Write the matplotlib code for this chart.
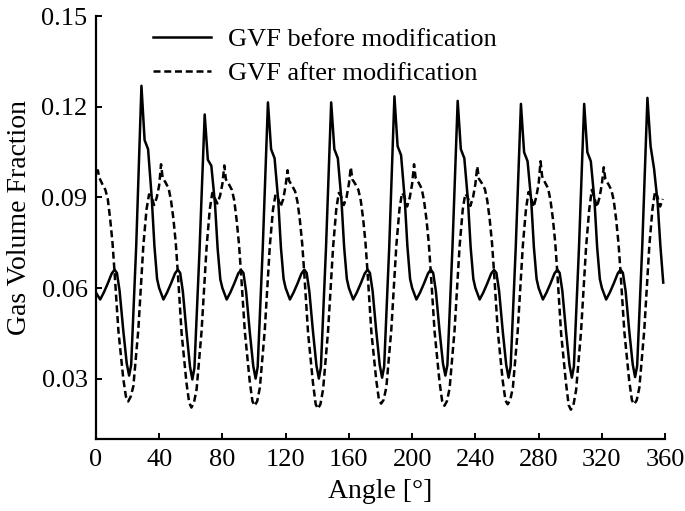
"""
plot.py - Gas volume fraction vs. angle, before and after modification
"""

import matplotlib
matplotlib.use('Agg')
import matplotlib.pyplot as plt

# Solid curve: GVF before modification (one row per 40 degree period)
before_angle = [
    0, 2.7, 5, 7.5, 10, 11.8, 13.3, 15, 17.3, 19.5, 21, 22.3, 25.5, 28.8, 30.8, 33, 35.3, 37, 38.7,
    40, 42.7, 45, 47.5, 50, 51.8, 53.3, 55, 57.3, 59.5, 61, 62.3, 65.5, 68.8, 70.8, 73, 75.3, 77, 78.7,
    80, 82.7, 85, 87.5, 90, 91.8, 93.3, 95, 97.3, 99.5, 101, 102.3, 105.5, 108.8, 110.8, 113, 115.3, 117, 118.7,
    120, 122.7, 125, 127.5, 130, 131.8, 133.3, 135, 137.3, 139.5, 141, 142.3, 145.5, 148.8, 150.8, 153, 155.3, 157, 158.7,
    160, 162.7, 165, 167.5, 170, 171.8, 173.3, 175, 177.3, 179.5, 181, 182.3, 185.5, 188.8, 190.8, 193, 195.3, 197, 198.7,
    200, 202.7, 205, 207.5, 210, 211.8, 213.3, 215, 217.3, 219.5, 221, 222.3, 225.5, 228.8, 230.8, 233, 235.3, 237, 238.7,
    240, 242.7, 245, 247.5, 250, 251.8, 253.3, 255, 257.3, 259.5, 261, 262.3, 265.5, 268.8, 270.8, 273, 275.3, 277, 278.7,
    280, 282.7, 285, 287.5, 290, 291.8, 293.3, 295, 297.3, 299.5, 301, 302.3, 305.5, 308.8, 310.8, 313, 315.3, 317, 318.7,
    320, 322.7, 325, 327.5, 330, 331.8, 333.3, 335, 337.3, 339.5, 341, 342.3, 345.5, 348.8, 350.8, 353, 355.3, 357, 358.8,
]
before_gvf = [
    0.0585, 0.0562, 0.0585, 0.0615, 0.0648, 0.0661, 0.0650, 0.0590, 0.0460, 0.0350, 0.0310, 0.0345, 0.0740, 0.1270, 0.1090, 0.1060, 0.0900, 0.0740, 0.0630,
    0.0600, 0.0562, 0.0585, 0.0615, 0.0648, 0.0661, 0.0650, 0.0588, 0.0455, 0.0340, 0.0297, 0.0335, 0.0720, 0.1175, 0.1025, 0.1005, 0.0880, 0.0730, 0.0628,
    0.0600, 0.0562, 0.0585, 0.0615, 0.0648, 0.0660, 0.0650, 0.0588, 0.0455, 0.0342, 0.0300, 0.0338, 0.0730, 0.1215, 0.1060, 0.1030, 0.0890, 0.0735, 0.0630,
    0.0600, 0.0562, 0.0585, 0.0615, 0.0648, 0.0661, 0.0650, 0.0588, 0.0455, 0.0342, 0.0300, 0.0338, 0.0730, 0.1215, 0.1060, 0.1030, 0.0890, 0.0735, 0.0630,
    0.0600, 0.0562, 0.0585, 0.0615, 0.0648, 0.0661, 0.0650, 0.0590, 0.0457, 0.0345, 0.0303, 0.0340, 0.0735, 0.1235, 0.1070, 0.1040, 0.0895, 0.0738, 0.0630,
    0.0600, 0.0562, 0.0585, 0.0615, 0.0648, 0.0661, 0.0650, 0.0590, 0.0460, 0.0350, 0.0310, 0.0345, 0.0735, 0.1220, 0.1060, 0.1030, 0.0890, 0.0735, 0.0630,
    0.0600, 0.0562, 0.0585, 0.0615, 0.0648, 0.0660, 0.0650, 0.0590, 0.0457, 0.0345, 0.0303, 0.0340, 0.0732, 0.1210, 0.1050, 0.1020, 0.0890, 0.0735, 0.0630,
    0.0600, 0.0562, 0.0585, 0.0615, 0.0648, 0.0661, 0.0650, 0.0590, 0.0457, 0.0345, 0.0303, 0.0340, 0.0732, 0.1210, 0.1050, 0.1020, 0.0890, 0.0735, 0.0630,
    0.0600, 0.0562, 0.0585, 0.0615, 0.0648, 0.0661, 0.0650, 0.0590, 0.0458, 0.0347, 0.0305, 0.0342, 0.0735, 0.1230, 0.1070, 0.0995, 0.0880, 0.0740, 0.0618,
]

# Dashed curve: GVF after modification
after_angle = [
    0, 1.2, 2.2, 4, 6, 7.5, 9, 10.5, 11.7, 14.2, 17.3, 19, 20.4, 22, 23.7, 26.8, 30, 32, 33.6, 35, 36.8, 38.5,
    40, 41.2, 42.2, 44, 46, 47.5, 49, 50.5, 51.7, 54.2, 57.3, 59, 60.4, 62, 63.7, 66.8, 70, 72, 73.6, 75, 76.8, 78.5,
    80, 81.2, 82.2, 84, 86, 87.5, 89, 90.5, 91.7, 94.2, 97.3, 99, 100.4, 102, 103.7, 106.8, 110, 112, 113.6, 115, 116.8, 118.5,
    120, 121.2, 122.2, 124, 126, 127.5, 129, 130.5, 131.7, 134.2, 137.3, 139, 140.4, 142, 143.7, 146.8, 150, 152, 153.6, 155, 156.8, 158.5,
    160, 161.2, 162.2, 164, 166, 167.5, 169, 170.5, 171.7, 174.2, 177.3, 179, 180.4, 182, 183.7, 186.8, 190, 192, 193.6, 195, 196.8, 198.5,
    200, 201.2, 202.2, 204, 206, 207.5, 209, 210.5, 211.7, 214.2, 217.3, 219, 220.4, 222, 223.7, 226.8, 230, 232, 233.6, 235, 236.8, 238.5,
    240, 241.2, 242.2, 244, 246, 247.5, 249, 250.5, 251.7, 254.2, 257.3, 259, 260.4, 262, 263.7, 266.8, 270, 272, 273.6, 275, 276.8, 278.5,
    280, 281.2, 282.2, 284, 286, 287.5, 289, 290.5, 291.7, 294.2, 297.3, 299, 300.4, 302, 303.7, 306.8, 310, 312, 313.6, 315, 316.8, 318.5,
    320, 321.2, 322.2, 324, 326, 327.5, 329, 330.5, 331.7, 334.2, 337.3, 339, 340.4, 342, 343.7, 346.8, 350, 352, 353.6, 355, 356.8, 358.5,
]
after_gvf = [
    0.0985, 0.0990, 0.0965, 0.0945, 0.0925, 0.0895, 0.0830, 0.0750, 0.0660, 0.0460, 0.0300, 0.0240, 0.0224, 0.0240, 0.0275, 0.0460, 0.0740, 0.0860, 0.0910, 0.0905, 0.0875, 0.0900,
    0.0940, 0.1010, 0.0965, 0.0950, 0.0930, 0.0890, 0.0830, 0.0750, 0.0660, 0.0450, 0.0285, 0.0220, 0.0204, 0.0220, 0.0265, 0.0455, 0.0735, 0.0860, 0.0915, 0.0900, 0.0880, 0.0905,
    0.0945, 0.1006, 0.0960, 0.0945, 0.0925, 0.0890, 0.0825, 0.0745, 0.0655, 0.0455, 0.0290, 0.0225, 0.0210, 0.0225, 0.0270, 0.0460, 0.0740, 0.0860, 0.0910, 0.0900, 0.0870, 0.0895,
    0.0940, 0.0990, 0.0955, 0.0940, 0.0920, 0.0885, 0.0825, 0.0745, 0.0655, 0.0450, 0.0285, 0.0215, 0.0200, 0.0215, 0.0265, 0.0455, 0.0735, 0.0860, 0.0915, 0.0905, 0.0875, 0.0900,
    0.0945, 0.1000, 0.0960, 0.0945, 0.0925, 0.0890, 0.0830, 0.0750, 0.0660, 0.0455, 0.0295, 0.0230, 0.0217, 0.0230, 0.0272, 0.0460, 0.0740, 0.0862, 0.0915, 0.0905, 0.0870, 0.0900,
    0.0945, 0.1010, 0.0965, 0.0950, 0.0930, 0.0890, 0.0830, 0.0750, 0.0660, 0.0455, 0.0290, 0.0225, 0.0210, 0.0225, 0.0268, 0.0458, 0.0738, 0.0860, 0.0912, 0.0903, 0.0872, 0.0900,
    0.0945, 0.1003, 0.0962, 0.0948, 0.0928, 0.0890, 0.0830, 0.0750, 0.0660, 0.0455, 0.0292, 0.0228, 0.0215, 0.0228, 0.0270, 0.0460, 0.0740, 0.0862, 0.0918, 0.0905, 0.0868, 0.0902,
    0.0945, 0.1020, 0.0970, 0.0950, 0.0930, 0.0890, 0.0830, 0.0750, 0.0660, 0.0450, 0.0285, 0.0212, 0.0197, 0.0212, 0.0262, 0.0455, 0.0735, 0.0860, 0.0925, 0.0905, 0.0868, 0.0900,
    0.0945, 0.1000, 0.0960, 0.0945, 0.0925, 0.0890, 0.0828, 0.0748, 0.0660, 0.0455, 0.0292, 0.0228, 0.0215, 0.0228, 0.0270, 0.0460, 0.0740, 0.0862, 0.0920, 0.0905, 0.0870, 0.0895,
]

x_ticks = [0, 40, 80, 120, 160, 200, 240, 280, 320, 360]
y_ticks = [0.03, 0.06, 0.09, 0.12, 0.15]
y_tick_labels = ['0.03', '0.06', '0.09', '0.12', '0.15']

plt.rcParams['font.family'] = ['Liberation Serif', 'DejaVu Serif']

fig = plt.figure(figsize=(6.85, 5.11), dpi=100)
ax = fig.add_axes([0.140, 0.141, 0.831, 0.827])

ax.plot(before_angle, before_gvf, color='black', linewidth=1.8,
        label='GVF before modification')
ax.plot(after_angle, after_gvf, color='black', linewidth=1.8,
        linestyle=(0, (2.8, 1.5)), label='GVF after modification')

ax.set_xlim(0, 360)
ax.set_ylim(0.01, 0.15)
ax.set_xticks(x_ticks)
ax.set_yticks(y_ticks)
ax.set_yticklabels(y_tick_labels)

for side in ['top', 'right']:
    ax.spines[side].set_visible(False)
for side in ['left', 'bottom']:
    ax.spines[side].set_linewidth(1.6)

ax.tick_params(direction='in', length=4, width=1.4, labelsize=19)
ax.tick_params(axis='x', pad=7)
ax.tick_params(axis='y', pad=6)
ax.set_xlabel('Angle [°]', fontsize=20, labelpad=6)
ax.set_ylabel('Gas Volume Fraction', fontsize=20)
ax.yaxis.set_label_coords(-0.113, 0.525)

ax.legend(loc='upper left', bbox_to_anchor=(0.058, 1.03), frameon=False,
          fontsize=19, handlelength=2.2, handletextpad=0.65, labelspacing=0.4)

fig.savefig('out.png', dpi=100)
